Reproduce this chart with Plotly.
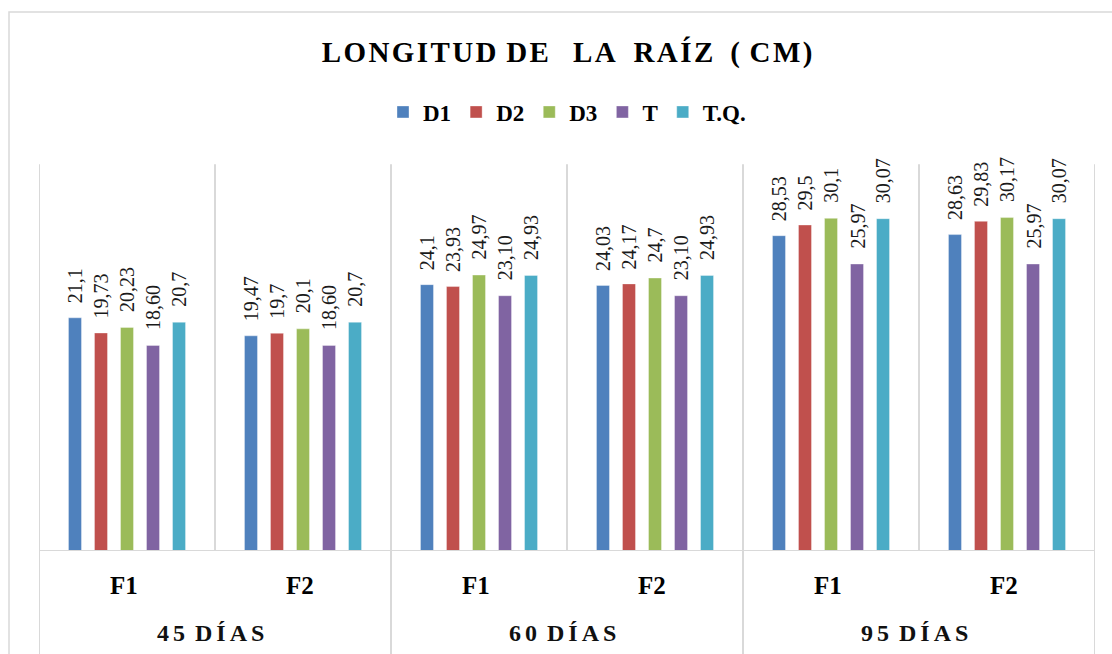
import plotly.graph_objects as go

# ---- data ----
days = ["45 DÍAS", "60 DÍAS", "95 DÍAS"]
phases = ["F1", "F2"]
series_names = ["D1", "D2", "D3", "T", "T.Q."]

d1 = [21.1, 19.47, 24.1, 24.03, 28.53, 28.63]
d2 = [19.73, 19.7, 23.93, 24.17, 29.5, 29.83]
d3 = [20.23, 20.1, 24.97, 24.7, 30.1, 30.17]
t = [18.60, 18.60, 23.10, 23.10, 25.97, 25.97]
tq = [20.7, 20.7, 24.93, 24.93, 30.07, 30.07]

d1_labels = ["21,1", "19,47", "24,1", "24,03", "28,53", "28,63"]
d2_labels = ["19,73", "19,7", "23,93", "24,17", "29,5", "29,83"]
d3_labels = ["20,23", "20,1", "24,97", "24,7", "30,1", "30,17"]
t_labels = ["18,60", "18,60", "23,10", "23,10", "25,97", "25,97"]
tq_labels = ["20,7", "20,7", "24,93", "24,93", "30,07", "30,07"]

colors = ["#4F81BD", "#C0504D", "#9BBB59", "#8064A2", "#4BACC6"]

values = [d1, d2, d3, t, tq]
labels = [d1_labels, d2_labels, d3_labels, t_labels, tq_labels]

# category positions (one per day/phase pair)
pairs = [(d, p) for d in days for p in phases]
xpos = list(range(len(pairs)))

FONT = "'Liberation Serif', 'Times New Roman', Times, serif"
HAIR = "\u200a"

# layout geometry (pixels)
W, H = 1112, 654
BASE_Y = 551          # pixel row of the category axis
TOP_Y = 120           # top of plotting area (room for labels)
YMAX = 39.0
PLOT_H = BASE_Y - TOP_Y
BARGAP = 0.261
NS = len(series_names)


def py(pix):
    """pixel row -> paper y"""
    return (BASE_Y - pix) / PLOT_H


def spaced(s, sep):
    words = s.split(" ")
    return (" " + sep * 2).join((sep * 2).join(list(w)) for w in words)


fig = go.Figure()
annotations = []
slot = (1 - BARGAP) / NS
for k, (name, vals, labs, col) in enumerate(zip(series_names, values, labels, colors)):
    fig.add_trace(go.Bar(
        name=name,
        x=xpos,
        y=vals,
        marker=dict(color=col, line=dict(color="rgba(255,255,255,0.6)", width=0.6)),
        hoverinfo="skip",
    ))
    # rotated value labels above each bar
    for xi, v, s in zip(xpos, vals, labs):
        annotations.append(dict(
            x=xi + (k - (NS - 1) / 2) * slot, y=v, xref="x", yref="y",
            text=s, textangle=-90, showarrow=False,
            xanchor="center", yanchor="bottom", yshift=13,
            font=dict(family=FONT, size=20, color="#1a1a1a"),
        ))

shapes = []
GRID = "#d9d9d9"
GRID_TOP = 35  # value at which the vertical separators end
for i in range(len(pairs) + 1):
    xb = i - 0.5
    group_edge = (i % len(phases) == 0)
    if group_edge:
        shapes.append(dict(type="line", xref="x", yref="paper",
                           x0=xb, x1=xb, y0=py(656), y1=py(BASE_Y - GRID_TOP * PLOT_H / YMAX),
                           line=dict(color=GRID, width=2)))
    else:
        shapes.append(dict(type="line", xref="x", yref="y",
                           x0=xb, x1=xb, y0=0, y1=GRID_TOP,
                           line=dict(color=GRID, width=2)))
shapes.append(dict(type="line", xref="x", yref="y",
                   x0=-0.5, x1=len(pairs) - 0.5, y0=0, y1=0,
                   line=dict(color=GRID, width=2)))
# outer chart border
shapes.append(dict(type="rect", xref="paper", yref="paper",
                   x0=(9 - 39) / 1056, x1=1.05, y0=py(720), y1=py(12),
                   line=dict(color=GRID, width=1.5), fillcolor="rgba(0,0,0,0)"))

for xi, (d, p) in zip(xpos, pairs):
    annotations.append(dict(x=xi, y=py(585), xref="x", yref="paper", text=p,
                            showarrow=False, xshift=-3,
                            font=dict(family=FONT, size=25, color="black", weight="bold"),
                            xanchor="center", yanchor="middle"))
for gi, d in enumerate(days):
    xc = (gi * len(phases) + (gi + 1) * len(phases) - 1) / 2
    annotations.append(dict(x=xc, y=py(633), xref="x", yref="paper",
                            text=spaced(d, HAIR), showarrow=False, xshift=-5,
                            font=dict(family=FONT, size=24, color="#111111", weight="bold"),
                            xanchor="center", yanchor="middle"))

h = HAIR
title_text = (h.join("LONGITUD") + " " + h + h.join("DE") + "   " + h + h.join("LA") + "  "
              + h + h + h.join("RAÍZ") + "  " + h + "(" + " " + h + h.join("CM)"))

fig.update_layout(
    width=W, height=H,
    margin=dict(l=39, r=17, t=TOP_Y, b=H - BASE_Y),
    paper_bgcolor="white", plot_bgcolor="white",
    font=dict(family=FONT, color="black"),
    title=dict(text=title_text, x=0.5, xanchor="center", xref="paper",
               y=1 - 52 / H, yanchor="middle", yref="container",
               font=dict(family=FONT, size=29, color="black", weight="bold")),
    barmode="group", bargap=BARGAP, bargroupgap=0.5,
    showlegend=True,
    legend=dict(orientation="h", x=0.5, xanchor="center", y=py(112), yanchor="middle",
                font=dict(family=FONT, size=23, color="black", weight="bold"),
                itemwidth=30, traceorder="normal"),
    xaxis=dict(range=[-0.5, len(pairs) - 0.5], showticklabels=False, showgrid=False,
               zeroline=False, showline=False, ticks=""),
    yaxis=dict(range=[0, YMAX], visible=False, showgrid=False, zeroline=False),
    shapes=shapes,
    annotations=annotations,
)

fig.write_html("out.html")
